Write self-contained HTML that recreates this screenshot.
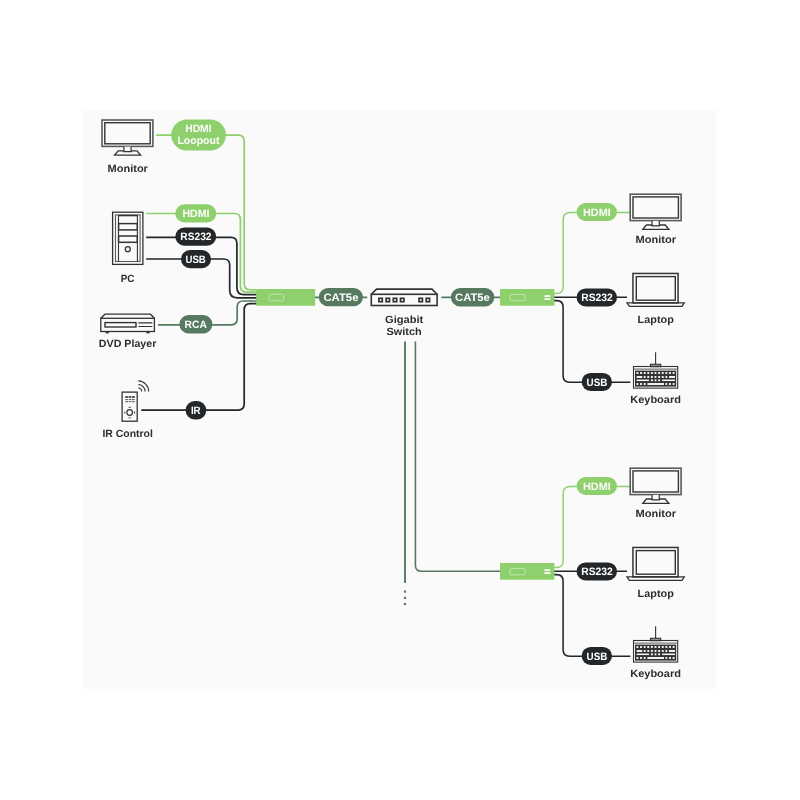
<!DOCTYPE html>
<html><head><meta charset="utf-8"><title>diagram</title>
<style>
html,body{margin:0;padding:0;background:#fff;}
body{width:800px;height:800px;overflow:hidden;position:relative;font-family:"Liberation Sans",sans-serif;}
svg{position:absolute;left:0;top:0;display:block;will-change:transform;}
svg text{font-family:"Liberation Sans",sans-serif;font-weight:bold;text-rendering:geometricPrecision;}
</style></head><body>
<svg width="800" height="800" viewBox="0 0 800 800">
<rect x="83" y="110" width="633.2" height="579" fill="#fafafa"/>
<g fill="none" stroke-width="1.7">
<path d="M156.2 135.2 H238.2 Q244.2 135.2 244.2 141.2 V283.8 Q244.2 289.8 250.2 289.8 H257" stroke="#8ed16c"/>
<path d="M146.2 213.5 H234.4 Q240.4 213.5 240.4 219.5 V285.7 Q240.4 292.2 246.9 292.2 H257" stroke="#8ed16c"/>
<path d="M146.2 237.3 H230.9 Q236.9 237.3 236.9 243.3 V287.7 Q236.9 294.7 243.9 294.7 H257" stroke="#23272a"/>
<path d="M146.2 259.0 H223.7 Q229.7 259.0 229.7 265.0 V290.3 Q229.7 297.8 237.2 297.8 H257" stroke="#23272a"/>
<path d="M158 324.8 H231.2 Q237.2 324.8 237.2 318.8 V307 Q237.2 301 243.2 301 H257" stroke="#56795f"/>
<path d="M141.2 410.1 H238.2 Q244.2 410.1 244.2 404.1 V309.6 Q244.2 303.6 250.2 303.6 H257" stroke="#23272a"/>
<path d="M315 297.3 H367.2 M441.4 297.3 H500.5" stroke="#56795f"/>
<path d="M405 341.5 V582.9" stroke="#56795f" stroke-width="1.9"/>
<path d="M415.4 341.5 V565.2 Q415.4 571.2 421.4 571.2 H500.5" stroke="#56795f" stroke-width="1.6"/>
</g>
<rect x="403.9" y="590.50" width="2.2" height="2.2" fill="#56795f"/>
<rect x="403.9" y="596.80" width="2.2" height="2.2" fill="#56795f"/>
<rect x="403.9" y="603.00" width="2.2" height="2.2" fill="#56795f"/>
<rect x="256.2" y="289" width="59" height="16.7" fill="#8ed16c"/>
<rect x="269" y="294.2" width="14.8" height="6.6" rx="1.7" fill="none" stroke="#d6efc8" stroke-width="0.7"/>
<text x="253" y="322.3" font-size="8.6" fill="#ffffff" opacity="0.45" textLength="66" lengthAdjust="spacingAndGlyphs">HDMI KVM Sender</text>
<rect x="171.30" y="119.40" width="54.60" height="31.20" rx="15.60" fill="#8ed16c"/>
<text x="198.40" y="131.90" font-size="10.7" fill="#fff" text-anchor="middle" textLength="26.40" lengthAdjust="spacingAndGlyphs">HDMI</text>
<text x="198.40" y="143.80" font-size="10.7" fill="#fff" text-anchor="middle" textLength="42.00" lengthAdjust="spacingAndGlyphs">Loopout</text>
<rect x="175.30" y="204.30" width="40.90" height="18.20" rx="9.10" fill="#8ed16c"/>
<text x="195.90" y="217.00" font-size="10.7" fill="#fff" text-anchor="middle" textLength="27.00" lengthAdjust="spacingAndGlyphs">HDMI</text>
<rect x="175.30" y="227.60" width="40.90" height="18.10" rx="9.05" fill="#23272a"/>
<text x="195.90" y="240.00" font-size="10.7" fill="#fff" text-anchor="middle" textLength="31.20" lengthAdjust="spacingAndGlyphs">RS232</text>
<rect x="181.00" y="250.10" width="30.00" height="18.10" rx="9.05" fill="#23272a"/>
<text x="195.65" y="263.00" font-size="10.7" fill="#fff" text-anchor="middle" textLength="20.30" lengthAdjust="spacingAndGlyphs">USB</text>
<rect x="179.40" y="315.00" width="33.00" height="18.40" rx="9.20" fill="#56795f"/>
<text x="195.70" y="328.00" font-size="10.7" fill="#fff" text-anchor="middle" textLength="22.20" lengthAdjust="spacingAndGlyphs">RCA</text>
<rect x="185.60" y="401.00" width="20.70" height="18.40" rx="9.20" fill="#23272a"/>
<text x="195.75" y="414.00" font-size="10.7" fill="#fff" text-anchor="middle" textLength="9.70" lengthAdjust="spacingAndGlyphs">IR</text>
<rect x="318.80" y="288.00" width="44.10" height="18.30" rx="9.15" fill="#56795f"/>
<text x="340.95" y="300.90" font-size="10.8" fill="#fff" text-anchor="middle" textLength="35.10" lengthAdjust="spacingAndGlyphs">CAT5e</text>
<rect x="450.90" y="288.10" width="43.40" height="18.30" rx="9.15" fill="#56795f"/>
<text x="472.45" y="301.00" font-size="10.8" fill="#fff" text-anchor="middle" textLength="34.90" lengthAdjust="spacingAndGlyphs">CAT5e</text>
<g transform="translate(101.20,119.20)" fill="none">
<rect x="0.8" y="0.8" width="50.9" height="26.4" stroke="#5a5a5a" stroke-width="1.6"/>
<rect x="3.6" y="3.5" width="45.4" height="21.1" stroke="#333333" stroke-width="1.4"/>
<path d="M17 31.6 H35.8 L39.4 35.9 H13.4 Z" stroke="#333333" stroke-width="1.35" stroke-linejoin="miter"/>
<path d="M22.7 27.5 V32.4 H29.9 V27.5" stroke="#333333" stroke-width="1.2" fill="#fafafa"/>
</g>
<text x="127.75" y="172.00" font-size="10.5" fill="#2c2c2c" text-anchor="middle" textLength="40.30" lengthAdjust="spacingAndGlyphs">Monitor</text>
<g fill="none" stroke="#333333">
<rect x="112.6" y="212.2" width="30.3" height="52.2" stroke-width="1.3"/>
<rect x="115.5" y="214.9" width="24.6" height="46.6" stroke-width="1.1" stroke="#5a5a5a"/>
<path d="M118.5 215 V261.5 M137.4 215 V261.5" stroke-width="1.1"/>
<path d="M118.5 215.6 H137.4" stroke-width="1.4"/>
<rect x="118.6" y="223.6" width="18.7" height="6.3" stroke-width="1.5"/>
<rect x="118.6" y="236" width="18.7" height="6.3" stroke-width="1.5"/>
<circle cx="127.8" cy="249.2" r="2.5" stroke-width="1.3"/>
</g>
<text x="127.60" y="282.00" font-size="10.5" fill="#2c2c2c" text-anchor="middle" textLength="13.80" lengthAdjust="spacingAndGlyphs">PC</text>
<g fill="none" stroke="#333333" stroke-width="1.3">
<rect x="100.8" y="318.3" width="53.6" height="13.2"/>
<path d="M100.8 318.3 L105 314.2 H150.4 L154.4 318.3"/>
<rect x="105" y="322.6" width="31" height="4.4" stroke-width="1.4"/>
<path d="M138.4 322.8 H152.4 M138.4 326.5 H152.4" stroke-width="1.2"/>
</g>
<rect x="105.6" y="331.6" width="3.2" height="1.8" fill="#333333"/><rect x="146.4" y="331.6" width="3.2" height="1.8" fill="#333333"/>
<text x="127.60" y="346.50" font-size="10.5" fill="#2c2c2c" text-anchor="middle" textLength="57.60" lengthAdjust="spacingAndGlyphs">DVD Player</text>
<g fill="none" stroke="#333333">
<rect x="122.1" y="392.1" width="15.1" height="29.1" stroke-width="1.3"/>
<path d="M125.2 397 h2.8" stroke-width="1.6"/>
<path d="M125.2 399.6 h2.8 M125.2 401.7 h2.8" stroke-width="0.8"/>
<path d="M128.6 397 h2.8" stroke-width="1.6"/>
<path d="M128.6 399.6 h2.8 M128.6 401.7 h2.8" stroke-width="0.8"/>
<path d="M132.0 397 h2.8" stroke-width="1.6"/>
<path d="M132.0 399.6 h2.8 M132.0 401.7 h2.8" stroke-width="0.8"/>
<circle cx="129.7" cy="412.5" r="2.8" stroke-width="1.2"/>
<path d="M128.6 407.3 h2.2 M128.6 417.8 h2.2" stroke-width="0.9"/>
<path d="M124.8 411.4 v2.2 M134.6 411.4 v2.2" stroke-width="0.9"/>
<path d="M138.3 388 A3.5 3.5 0 0 1 141.6 391.6 M138.3 384.5 A7 7 0 0 1 145.1 391.6 M138.3 380.9 A10.6 10.6 0 0 1 148.7 391.6" stroke-width="1.1"/>
</g>
<text x="127.65" y="436.80" font-size="10.5" fill="#2c2c2c" text-anchor="middle" textLength="50.50" lengthAdjust="spacingAndGlyphs">IR Control</text>
<g fill="none" stroke="#333333" stroke-width="1.6">
<rect x="371.3" y="294.3" width="65.8" height="11.2"/>
<path d="M371.3 294.3 L376.6 289.1 H432 L437.1 294.3"/>
<rect x="378.90" y="298.3" width="3.4" height="3.4" stroke-width="1.7"/>
<rect x="386.10" y="298.3" width="3.4" height="3.4" stroke-width="1.7"/>
<rect x="393.30" y="298.3" width="3.4" height="3.4" stroke-width="1.7"/>
<rect x="400.50" y="298.3" width="3.4" height="3.4" stroke-width="1.7"/>
<rect x="419.00" y="298.3" width="3.4" height="3.4" stroke-width="1.7"/>
<rect x="426.20" y="298.3" width="3.4" height="3.4" stroke-width="1.7"/>
</g>
<text x="404.15" y="322.50" font-size="10.5" fill="#2c2c2c" text-anchor="middle" textLength="38.30" lengthAdjust="spacingAndGlyphs">Gigabit</text>
<text x="404.05" y="335.00" font-size="10.5" fill="#2c2c2c" text-anchor="middle" textLength="35.10" lengthAdjust="spacingAndGlyphs">Switch</text>
<text x="494" y="318.2" font-size="5.6" fill="#ffffff" opacity="0.45" textLength="67" lengthAdjust="spacingAndGlyphs">HDMI KVM over IP</text>
<text x="494" y="323.4" font-size="5.6" fill="#ffffff" opacity="0.45" textLength="67" lengthAdjust="spacingAndGlyphs">Extender Receiver</text>
<path d="M554 293.5 H556.7 Q563.2 293.5 563.2 287 V219.5 Q563.2 212.5 570.2 212.5 H630" stroke="#8ed16c" stroke-width="1.45" fill="none"/>
<path d="M554 297.2 H627" stroke="#23272a" stroke-width="1.45" fill="none"/>
<path d="M554 300.6 H556.6 Q563.1 300.6 563.1 307.1 V375.7 Q563.1 382.2 569.6 382.2 H630.4" stroke="#23272a" stroke-width="1.55" fill="none"/>
<rect x="500" y="289.00" width="54.4" height="16.7" fill="#8ed16c"/>
<rect x="510" y="294.60" width="15.2" height="6.2" rx="1.6" fill="none" stroke="#d6efc8" stroke-width="0.7"/>
<rect x="544.5" y="295.20" width="5.8" height="1.8" fill="#fff"/>
<rect x="544.5" y="298.20" width="5.8" height="1.8" fill="#fff"/>
<rect x="576.60" y="203.00" width="40.40" height="18.00" rx="9.00" fill="#8ed16c"/>
<text x="596.90" y="215.60" font-size="10.7" fill="#fff" text-anchor="middle" textLength="27.80" lengthAdjust="spacingAndGlyphs">HDMI</text>
<rect x="576.60" y="288.40" width="40.40" height="18.00" rx="9.00" fill="#23272a"/>
<text x="597.00" y="301.00" font-size="10.7" fill="#fff" text-anchor="middle" textLength="31.60" lengthAdjust="spacingAndGlyphs">RS232</text>
<rect x="581.60" y="372.90" width="30.40" height="18.00" rx="9.00" fill="#23272a"/>
<text x="597.00" y="385.70" font-size="10.7" fill="#fff" text-anchor="middle" textLength="20.80" lengthAdjust="spacingAndGlyphs">USB</text>
<g transform="translate(629.40,193.40)" fill="none">
<rect x="0.8" y="0.8" width="50.9" height="26.4" stroke="#5a5a5a" stroke-width="1.6"/>
<rect x="3.6" y="3.5" width="45.4" height="21.1" stroke="#333333" stroke-width="1.4"/>
<path d="M17 31.6 H35.8 L39.4 35.9 H13.4 Z" stroke="#333333" stroke-width="1.35" stroke-linejoin="miter"/>
<path d="M22.7 27.5 V32.4 H29.9 V27.5" stroke="#333333" stroke-width="1.2" fill="#fafafa"/>
</g>
<text x="655.80" y="242.70" font-size="10.5" fill="#2c2c2c" text-anchor="middle" textLength="40.40" lengthAdjust="spacingAndGlyphs">Monitor</text>
<g transform="translate(632.20,272.70)" fill="none">
<rect x="0.75" y="0.75" width="45.1" height="29.4" stroke="#333333" stroke-width="1.5"/>
<rect x="4.1" y="3.9" width="39" height="23.6" stroke="#333333" stroke-width="1.4"/>
<path d="M-5.2 30.2 H52 L49.8 33.6 H-2.8 Z" stroke="#333333" stroke-width="1.3" stroke-linejoin="miter"/>
</g>
<text x="655.70" y="323.00" font-size="10.5" fill="#2c2c2c" text-anchor="middle" textLength="36.20" lengthAdjust="spacingAndGlyphs">Laptop</text>
<g transform="translate(633.00,366.00)">
<path d="M22.6 -13.8 V-1.8" stroke="#333333" stroke-width="1.1" fill="none"/>
<rect x="17.5" y="-1.7" width="10.2" height="2.4" fill="#999" stroke="#333333" stroke-width="1.1"/>
<rect x="0.5" y="0.5" width="44.2" height="21.6" fill="none" stroke="#333333" stroke-width="1.1"/>
<path d="M0.5 3.1 H44.7" stroke="#5a5a5a" stroke-width="1" fill="none"/>
<rect x="2" y="4.6" width="41.2" height="16" fill="#333333"/>
<rect x="3.45" y="6.05" width="1.90" height="1.90" fill="#fafafa"/>
<rect x="7.07" y="6.05" width="1.90" height="1.90" fill="#fafafa"/>
<rect x="10.69" y="6.05" width="1.90" height="1.90" fill="#fafafa"/>
<rect x="14.31" y="6.05" width="1.90" height="1.90" fill="#fafafa"/>
<rect x="17.93" y="6.05" width="1.90" height="1.90" fill="#fafafa"/>
<rect x="21.55" y="6.05" width="1.90" height="1.90" fill="#fafafa"/>
<rect x="25.17" y="6.05" width="1.90" height="1.90" fill="#fafafa"/>
<rect x="28.79" y="6.05" width="1.90" height="1.90" fill="#fafafa"/>
<rect x="32.41" y="6.05" width="1.90" height="1.90" fill="#fafafa"/>
<rect x="36.03" y="6.05" width="1.90" height="1.90" fill="#fafafa"/>
<rect x="39.65" y="6.05" width="1.90" height="1.90" fill="#fafafa"/>
<rect x="3.60" y="10.05" width="5.60" height="1.90" fill="#fafafa"/>
<rect x="10.69" y="10.05" width="1.90" height="1.90" fill="#fafafa"/>
<rect x="14.31" y="10.05" width="1.90" height="1.90" fill="#fafafa"/>
<rect x="17.93" y="10.05" width="1.90" height="1.90" fill="#fafafa"/>
<rect x="21.55" y="10.05" width="1.90" height="1.90" fill="#fafafa"/>
<rect x="25.17" y="10.05" width="1.90" height="1.90" fill="#fafafa"/>
<rect x="28.79" y="10.05" width="1.90" height="1.90" fill="#fafafa"/>
<rect x="32.41" y="10.05" width="1.90" height="1.90" fill="#fafafa"/>
<rect x="36.00" y="10.05" width="6.00" height="1.90" fill="#fafafa"/>
<rect x="3.60" y="13.55" width="12.40" height="1.50" fill="#fafafa"/>
<rect x="17.93" y="13.35" width="1.90" height="1.90" fill="#fafafa"/>
<rect x="21.55" y="13.35" width="1.90" height="1.90" fill="#fafafa"/>
<rect x="25.17" y="13.35" width="1.90" height="1.90" fill="#fafafa"/>
<rect x="29.20" y="13.55" width="12.80" height="1.50" fill="#fafafa"/>
<rect x="3.45" y="17.05" width="1.90" height="1.90" fill="#fafafa"/>
<rect x="7.07" y="17.05" width="1.90" height="1.90" fill="#fafafa"/>
<rect x="10.69" y="17.05" width="1.90" height="1.90" fill="#fafafa"/>
<rect x="14.40" y="17.05" width="16.60" height="1.90" fill="#fafafa"/>
<rect x="32.41" y="17.05" width="1.90" height="1.90" fill="#fafafa"/>
<rect x="36.03" y="17.05" width="1.90" height="1.90" fill="#fafafa"/>
<rect x="39.65" y="17.05" width="1.90" height="1.90" fill="#fafafa"/>
</g>
<text x="655.60" y="402.60" font-size="10.5" fill="#2c2c2c" text-anchor="middle" textLength="50.80" lengthAdjust="spacingAndGlyphs">Keyboard</text>
<text x="494" y="592.2" font-size="5.6" fill="#ffffff" opacity="0.45" textLength="67" lengthAdjust="spacingAndGlyphs">HDMI KVM over IP</text>
<text x="494" y="597.4" font-size="5.6" fill="#ffffff" opacity="0.45" textLength="67" lengthAdjust="spacingAndGlyphs">Extender Receiver</text>
<path d="M554 567.5 H556.7 Q563.2 567.5 563.2 561 V493.5 Q563.2 486.5 570.2 486.5 H630" stroke="#8ed16c" stroke-width="1.45" fill="none"/>
<path d="M554 571.2 H627" stroke="#23272a" stroke-width="1.45" fill="none"/>
<path d="M554 574.6 H556.6 Q563.1 574.6 563.1 581.1 V649.7 Q563.1 656.2 569.6 656.2 H630.4" stroke="#23272a" stroke-width="1.55" fill="none"/>
<rect x="500" y="563.00" width="54.4" height="16.7" fill="#8ed16c"/>
<rect x="510" y="568.60" width="15.2" height="6.2" rx="1.6" fill="none" stroke="#d6efc8" stroke-width="0.7"/>
<rect x="544.5" y="569.20" width="5.8" height="1.8" fill="#fff"/>
<rect x="544.5" y="572.20" width="5.8" height="1.8" fill="#fff"/>
<rect x="576.60" y="477.00" width="40.40" height="18.00" rx="9.00" fill="#8ed16c"/>
<text x="596.90" y="489.60" font-size="10.7" fill="#fff" text-anchor="middle" textLength="27.80" lengthAdjust="spacingAndGlyphs">HDMI</text>
<rect x="576.60" y="562.40" width="40.40" height="18.00" rx="9.00" fill="#23272a"/>
<text x="597.00" y="575.00" font-size="10.7" fill="#fff" text-anchor="middle" textLength="31.60" lengthAdjust="spacingAndGlyphs">RS232</text>
<rect x="581.60" y="646.90" width="30.40" height="18.00" rx="9.00" fill="#23272a"/>
<text x="597.00" y="659.70" font-size="10.7" fill="#fff" text-anchor="middle" textLength="20.80" lengthAdjust="spacingAndGlyphs">USB</text>
<g transform="translate(629.40,467.40)" fill="none">
<rect x="0.8" y="0.8" width="50.9" height="26.4" stroke="#5a5a5a" stroke-width="1.6"/>
<rect x="3.6" y="3.5" width="45.4" height="21.1" stroke="#333333" stroke-width="1.4"/>
<path d="M17 31.6 H35.8 L39.4 35.9 H13.4 Z" stroke="#333333" stroke-width="1.35" stroke-linejoin="miter"/>
<path d="M22.7 27.5 V32.4 H29.9 V27.5" stroke="#333333" stroke-width="1.2" fill="#fafafa"/>
</g>
<text x="655.80" y="516.70" font-size="10.5" fill="#2c2c2c" text-anchor="middle" textLength="40.40" lengthAdjust="spacingAndGlyphs">Monitor</text>
<g transform="translate(632.20,546.70)" fill="none">
<rect x="0.75" y="0.75" width="45.1" height="29.4" stroke="#333333" stroke-width="1.5"/>
<rect x="4.1" y="3.9" width="39" height="23.6" stroke="#333333" stroke-width="1.4"/>
<path d="M-5.2 30.2 H52 L49.8 33.6 H-2.8 Z" stroke="#333333" stroke-width="1.3" stroke-linejoin="miter"/>
</g>
<text x="655.70" y="597.00" font-size="10.5" fill="#2c2c2c" text-anchor="middle" textLength="36.20" lengthAdjust="spacingAndGlyphs">Laptop</text>
<g transform="translate(633.00,640.00)">
<path d="M22.6 -13.8 V-1.8" stroke="#333333" stroke-width="1.1" fill="none"/>
<rect x="17.5" y="-1.7" width="10.2" height="2.4" fill="#999" stroke="#333333" stroke-width="1.1"/>
<rect x="0.5" y="0.5" width="44.2" height="21.6" fill="none" stroke="#333333" stroke-width="1.1"/>
<path d="M0.5 3.1 H44.7" stroke="#5a5a5a" stroke-width="1" fill="none"/>
<rect x="2" y="4.6" width="41.2" height="16" fill="#333333"/>
<rect x="3.45" y="6.05" width="1.90" height="1.90" fill="#fafafa"/>
<rect x="7.07" y="6.05" width="1.90" height="1.90" fill="#fafafa"/>
<rect x="10.69" y="6.05" width="1.90" height="1.90" fill="#fafafa"/>
<rect x="14.31" y="6.05" width="1.90" height="1.90" fill="#fafafa"/>
<rect x="17.93" y="6.05" width="1.90" height="1.90" fill="#fafafa"/>
<rect x="21.55" y="6.05" width="1.90" height="1.90" fill="#fafafa"/>
<rect x="25.17" y="6.05" width="1.90" height="1.90" fill="#fafafa"/>
<rect x="28.79" y="6.05" width="1.90" height="1.90" fill="#fafafa"/>
<rect x="32.41" y="6.05" width="1.90" height="1.90" fill="#fafafa"/>
<rect x="36.03" y="6.05" width="1.90" height="1.90" fill="#fafafa"/>
<rect x="39.65" y="6.05" width="1.90" height="1.90" fill="#fafafa"/>
<rect x="3.60" y="10.05" width="5.60" height="1.90" fill="#fafafa"/>
<rect x="10.69" y="10.05" width="1.90" height="1.90" fill="#fafafa"/>
<rect x="14.31" y="10.05" width="1.90" height="1.90" fill="#fafafa"/>
<rect x="17.93" y="10.05" width="1.90" height="1.90" fill="#fafafa"/>
<rect x="21.55" y="10.05" width="1.90" height="1.90" fill="#fafafa"/>
<rect x="25.17" y="10.05" width="1.90" height="1.90" fill="#fafafa"/>
<rect x="28.79" y="10.05" width="1.90" height="1.90" fill="#fafafa"/>
<rect x="32.41" y="10.05" width="1.90" height="1.90" fill="#fafafa"/>
<rect x="36.00" y="10.05" width="6.00" height="1.90" fill="#fafafa"/>
<rect x="3.60" y="13.55" width="12.40" height="1.50" fill="#fafafa"/>
<rect x="17.93" y="13.35" width="1.90" height="1.90" fill="#fafafa"/>
<rect x="21.55" y="13.35" width="1.90" height="1.90" fill="#fafafa"/>
<rect x="25.17" y="13.35" width="1.90" height="1.90" fill="#fafafa"/>
<rect x="29.20" y="13.55" width="12.80" height="1.50" fill="#fafafa"/>
<rect x="3.45" y="17.05" width="1.90" height="1.90" fill="#fafafa"/>
<rect x="7.07" y="17.05" width="1.90" height="1.90" fill="#fafafa"/>
<rect x="10.69" y="17.05" width="1.90" height="1.90" fill="#fafafa"/>
<rect x="14.40" y="17.05" width="16.60" height="1.90" fill="#fafafa"/>
<rect x="32.41" y="17.05" width="1.90" height="1.90" fill="#fafafa"/>
<rect x="36.03" y="17.05" width="1.90" height="1.90" fill="#fafafa"/>
<rect x="39.65" y="17.05" width="1.90" height="1.90" fill="#fafafa"/>
</g>
<text x="655.60" y="676.60" font-size="10.5" fill="#2c2c2c" text-anchor="middle" textLength="50.80" lengthAdjust="spacingAndGlyphs">Keyboard</text>
</svg>
</body></html>
